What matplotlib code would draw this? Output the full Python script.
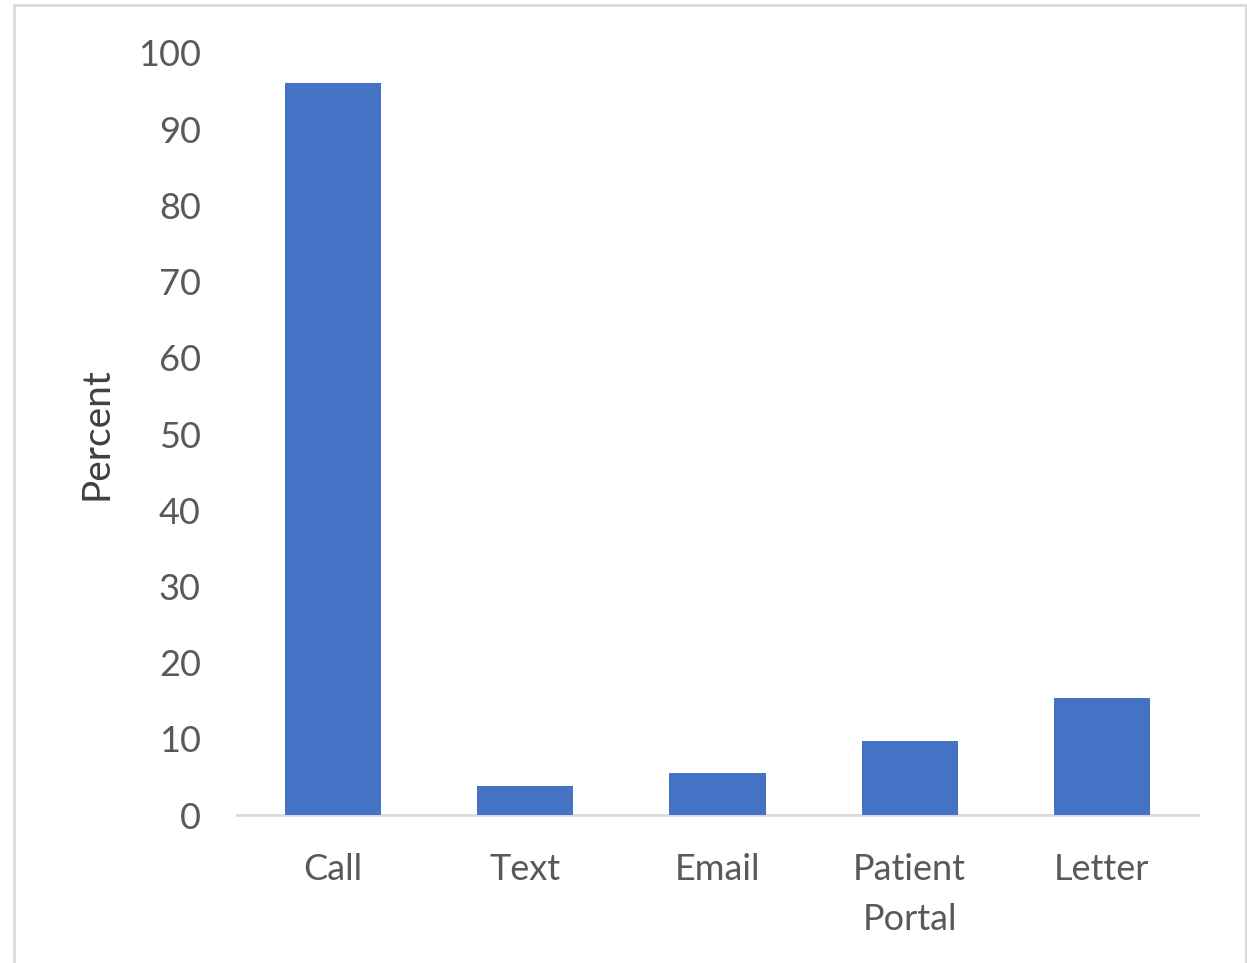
import matplotlib
matplotlib.use("Agg")
import matplotlib.pyplot as plt
from matplotlib.patches import Rectangle

categories = ["Call", "Text", "Email", "Patient\nPortal", "Letter"]
values = [96.1, 3.85, 5.5, 9.75, 15.3]
yticks = [0, 10, 20, 30, 40, 50, 60, 70, 80, 90, 100]

plt.rcParams['font.family'] = ['Lato', 'DejaVu Sans']

fig = plt.figure(figsize=(12.47, 9.63), dpi=100)
ax = fig.add_axes([237/1247, 1 - 815/963, (1198-237)/1247, (815-53)/963])

x = list(range(len(categories)))
ax.bar(x, values, width=0.5, color="#4472C4", zorder=3)
ax.set_xlim(-0.5, len(categories) - 0.5)
ax.set_ylim(0, 100)
ax.set_yticks(yticks)
ax.set_yticklabels([str(t) for t in yticks])
ax.set_xticks(x)
ax.set_xticklabels(categories, linespacing=1.65)

for s in ["top", "right", "left"]:
    ax.spines[s].set_visible(False)
ax.spines["bottom"].set_color("#D9D9D9")
ax.spines["bottom"].set_linewidth(2)
ax.tick_params(axis="both", length=0, labelsize=26, labelcolor="#595959")
ax.tick_params(axis="y", pad=26)
ax.tick_params(axis="x", pad=27)
ax.set_ylabel("Percent", fontsize=28, color="#404040", labelpad=17)

fig.patches.append(Rectangle((14/1247, -0.1), (1246-14)/1247, 1.1 - 5/963,
                             transform=fig.transFigure, fill=False,
                             edgecolor="#D9D9D9", linewidth=2))

fig.savefig("out.png", dpi=100)
